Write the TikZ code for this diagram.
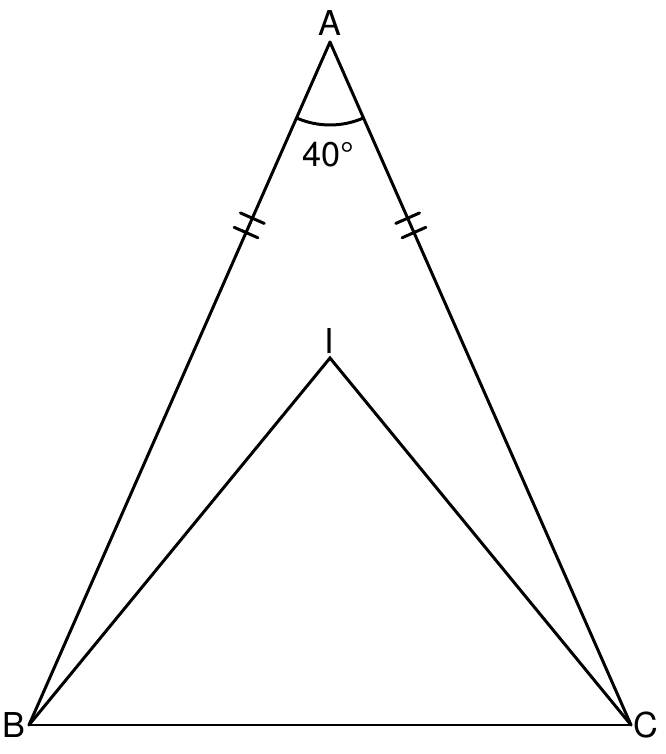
\documentclass[tikz,border=0pt]{standalone}
\usepackage{fontspec}
\setmainfont{TeX Gyre Heros}
\usetikzlibrary{decorations.markings}

\tikzset{
  side/.style={line width=1.7pt, line cap=round, line join=miter},
  lbl/.style={inner sep=0pt, font=\fontsize{19.5}{21}\selectfont},
  ticks/.style={postaction={decorate}, decoration={markings,
    mark=at position 0.258 with {\draw[line width=1.7pt] (0,-13) -- (0,13);},
    mark=at position 0.279 with {\draw[line width=1.7pt] (0,-13) -- (0,13);}}}
}

\begin{document}
\begin{tikzpicture}[x=0.02cm,y=0.02cm]

  \useasboundingbox (0,0) rectangle (666,754);

  \coordinate (A) at (330,712);
  \coordinate (B) at (29,29);
  \coordinate (C) at (631,29);
  \coordinate (I) at (330,396);

  \node[lbl] (A_lbl) at (330,731) {A};
  \node[lbl] (B_lbl) at (14,29) {B};
  \node[lbl] (C_lbl) at (646,29) {C};
  \node[lbl] (I_lbl) at (329,413) {I};
  \node[lbl] (ang_lbl) at (328,599) {40°};

  \draw[side, ticks] (A) -- (B);
  \draw[side, ticks] (A) -- (C);
  \draw[side] (B) -- (C);
  \draw[side] (B) -- (I) -- (C);

  % angle at A
  \draw[side] ([shift={(246.2:83)}]A) arc[start angle=246.2, end angle=293.8, radius=83];

\end{tikzpicture}
\end{document}
